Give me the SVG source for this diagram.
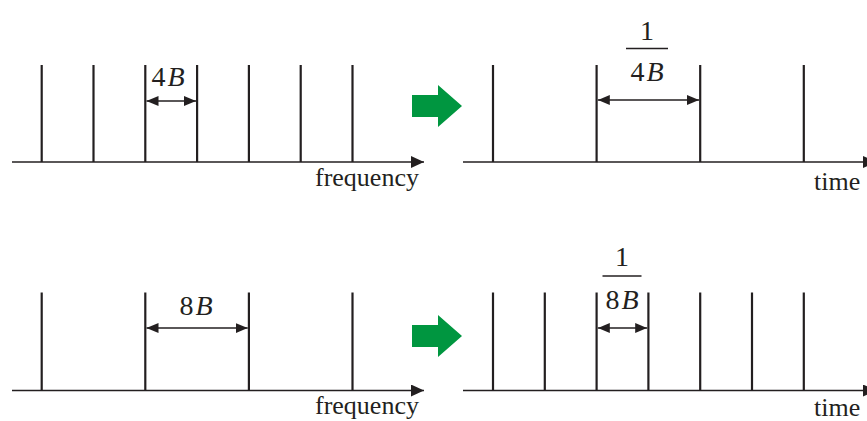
<svg xmlns="http://www.w3.org/2000/svg" width="867" height="421" viewBox="0 0 867 421">
<defs>
<marker id="ah" viewBox="0 0 12 10" refX="12" refY="5" markerWidth="12" markerHeight="10" markerUnits="userSpaceOnUse" orient="auto-start-reverse">
<path d="M0,0 L12,5 L0,10 Z" fill="#231f20"/>
</marker>
<marker id="axh" viewBox="0 0 13 12" refX="13" refY="6" markerWidth="13" markerHeight="12" markerUnits="userSpaceOnUse" orient="auto">
<path d="M0,0 L13,6 L0,12 Z" fill="#231f20"/>
</marker>
</defs>
<style>
.axis{stroke:#231f20;stroke-width:1.6;fill:none}
.spike{stroke:#231f20;stroke-width:2.2;fill:none}
.dim{stroke:#231f20;stroke-width:1.3;fill:none}
.bar{stroke:#231f20;stroke-width:1.5}
.t{font-family:"Liberation Serif","Times New Roman",serif;font-size:26px;fill:#231f20}
.lbl{font-family:"Liberation Serif","Times New Roman",serif;font-size:28px;fill:#231f20}
.green{fill:#009640}
</style>
<rect width="867" height="421" fill="#ffffff"/>

<g id="panel-top-left">
<line class="axis" x1="12" y1="162" x2="424" y2="162" marker-end="url(#axh)"/>
<g class="spike">
<line x1="41.7" y1="65" x2="41.7" y2="162"/>
<line x1="93.5" y1="65" x2="93.5" y2="162"/>
<line x1="145.3" y1="65" x2="145.3" y2="162"/>
<line x1="197.1" y1="65" x2="197.1" y2="162"/>
<line x1="248.9" y1="65" x2="248.9" y2="162"/>
<line x1="300.7" y1="65" x2="300.7" y2="162"/>
<line x1="352.5" y1="65" x2="352.5" y2="162"/>
</g>
<line class="dim" x1="146.5" y1="101" x2="196" y2="101" marker-start="url(#ah)" marker-end="url(#ah)"/>
<text class="lbl" x="151.5" y="86">4<tspan font-style="italic" dx="2">B</tspan></text>
<text class="t" x="315" y="186">frequency</text>
</g>

<g id="arrow-top">
<path class="green" d="M412,95 H438 V85 L462,106 L438,127 V117 H412 Z"/>
</g>

<g id="panel-top-right">
<line class="axis" x1="463" y1="162" x2="876" y2="162" marker-end="url(#axh)"/>
<g class="spike">
<line x1="493" y1="65" x2="493" y2="162"/>
<line x1="596.6" y1="65" x2="596.6" y2="162"/>
<line x1="700.2" y1="65" x2="700.2" y2="162"/>
<line x1="803.8" y1="65" x2="803.8" y2="162"/>
</g>
<line class="dim" x1="597.8" y1="100" x2="699" y2="100" marker-start="url(#ah)" marker-end="url(#ah)"/>
<text class="lbl" x="647" y="40" text-anchor="middle">1</text>
<line class="bar" x1="626" y1="48.5" x2="668" y2="48.5"/>
<text class="lbl" x="647" y="81" text-anchor="middle">4<tspan font-style="italic" dx="2">B</tspan></text>
<text class="t" x="814" y="190">time</text>
</g>

<g id="panel-bottom-left">
<line class="axis" x1="12" y1="390.5" x2="424" y2="390.5" marker-end="url(#axh)"/>
<g class="spike">
<line x1="41.7" y1="292.5" x2="41.7" y2="390.5"/>
<line x1="145.3" y1="292.5" x2="145.3" y2="390.5"/>
<line x1="248.9" y1="292.5" x2="248.9" y2="390.5"/>
<line x1="352.5" y1="292.5" x2="352.5" y2="390.5"/>
</g>
<line class="dim" x1="146.5" y1="328" x2="247.7" y2="328" marker-start="url(#ah)" marker-end="url(#ah)"/>
<text class="lbl" x="196" y="315" text-anchor="middle">8<tspan font-style="italic" dx="2">B</tspan></text>
<text class="t" x="315" y="414">frequency</text>
</g>

<g id="arrow-bottom">
<path class="green" d="M412,325 H438 V315 L462,336 L438,357 V347 H412 Z"/>
</g>

<g id="panel-bottom-right">
<line class="axis" x1="463" y1="390.5" x2="876" y2="390.5" marker-end="url(#axh)"/>
<g class="spike">
<line x1="493" y1="292.5" x2="493" y2="390.5"/>
<line x1="544.8" y1="292.5" x2="544.8" y2="390.5"/>
<line x1="596.6" y1="292.5" x2="596.6" y2="390.5"/>
<line x1="648.4" y1="292.5" x2="648.4" y2="390.5"/>
<line x1="700.2" y1="292.5" x2="700.2" y2="390.5"/>
<line x1="752" y1="292.5" x2="752" y2="390.5"/>
<line x1="803.8" y1="292.5" x2="803.8" y2="390.5"/>
</g>
<line class="dim" x1="597.8" y1="328" x2="647.2" y2="328" marker-start="url(#ah)" marker-end="url(#ah)"/>
<text class="lbl" x="622" y="266" text-anchor="middle">1</text>
<line class="bar" x1="602.5" y1="276" x2="641.5" y2="276"/>
<text class="lbl" x="622" y="309" text-anchor="middle">8<tspan font-style="italic" dx="2">B</tspan></text>
<text class="t" x="814" y="416">time</text>
</g>
</svg>
